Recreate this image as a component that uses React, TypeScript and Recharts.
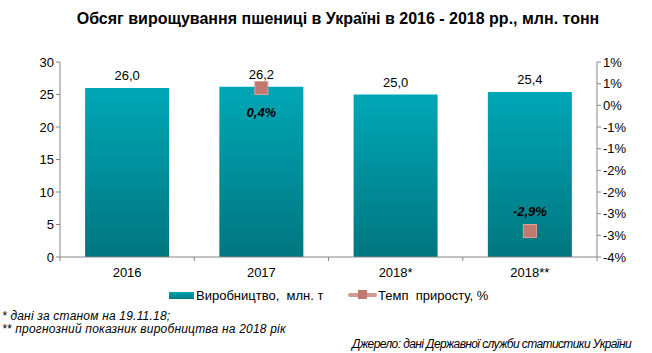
import React from "react";
import { ComposedChart, Bar, Line, XAxis, YAxis, LabelList } from "recharts";

const categories = ["2016", "2017", "2018*", "2018**"];
const production = [26.0, 26.2, 25.0, 25.4];
const growth: (number | null)[] = [null, 0.4, null, -2.9];
const leftTicks = [0, 5, 10, 15, 20, 25, 30];
const rightTicks = [1, 0.5, 0, -0.5, -1, -1.5, -2, -2.5, -3, -3.5];

const data = categories.map((c, i) => ({ name: c, prod: production[i], growth: growth[i] }));

const FONT = "'Liberation Sans', Arial, sans-serif";

const fmtPct = (v: number) => {
  const r = Math.sign(v) * Math.round(Math.abs(v));
  return `${r === 0 ? 0 : r}%`;
};

const XTick = (props: any) => {
  const { x, y, payload, index } = props;
  const off = payload.offset || 0;
  return (
    <g>
      <line x1={x - off} y1={y - 8} x2={x - off} y2={y - 4} stroke="#868686" />
      {index === categories.length - 1 && (
        <line x1={x + off} y1={y - 8} x2={x + off} y2={y - 4} stroke="#868686" />
      )}
      <text x={x} y={y + 12} textAnchor="middle" fontSize={13} fill="#000" fontFamily={FONT}>
        {payload.value}
      </text>
    </g>
  );
};

const SquareDot = (props: any) => {
  const { cx, cy, value } = props;
  if (value === null || value === undefined || cx == null || cy == null) return null;
  return (
    <rect x={cx - 6.5} y={cy - 6.5} width={13} height={13} fill="#C0786F" stroke="#D6A39B" strokeWidth={1} />
  );
};

const GrowthLabel = (props: any) => {
  const { x, y, value } = props;
  if (value === null || value === undefined) return null;
  const dy = value >= 0 ? 29 : -15;
  return (
    <text
      x={x}
      y={y + dy}
      textAnchor="middle"
      fontSize={13}
      fontWeight="bold"
      fontStyle="italic"
      fill="#000"
      fontFamily={FONT}
    >
      {`${value.toFixed(1).replace(".", ",")}%`}
    </text>
  );
};

export default function App() {
  return (
    <div style={{ position: "absolute", left: 0, top: 0, width: 652, height: 353, background: "#fff", fontFamily: FONT }}>
      <div
        style={{
          position: "absolute",
          left: 12,
          top: 10,
          width: 652,
          textAlign: "center",
          fontSize: 16,
          fontWeight: "bold",
          color: "#000",
        }}
      >
        Обсяг вирощування пшениці в Україні в 2016 - 2018 рр., млн. тонн
      </div>
      <ComposedChart
        width={652}
        height={353}
        data={data}
        margin={{ top: 62, right: 0, bottom: 0, left: 0 }}
        barCategoryGap="18.7%"
      >
        <defs>
          <linearGradient id="barGrad" x1="0" y1="0" x2="0" y2="1">
            <stop offset="0%" stopColor="#00A7B6" />
            <stop offset="100%" stopColor="#00767F" />
          </linearGradient>
        </defs>
        <XAxis
          dataKey="name"
          height={96}
          axisLine={{ stroke: "#868686" }}
          tickLine={false}
          tick={<XTick />}
          interval={0}
        />
        <YAxis
          yAxisId="left"
          width={60}
          domain={[0, 30]}
          ticks={leftTicks}
          interval={0}
          axisLine={{ stroke: "#868686" }}
          tickLine={{ stroke: "#868686" }}
          tickSize={4}
          tick={{ fontSize: 13, fill: "#000", fontFamily: FONT }}
        />
        <YAxis
          yAxisId="right"
          orientation="right"
          width={55}
          domain={[-3.5, 1]}
          ticks={rightTicks}
          interval={0}
          allowDataOverflow
          axisLine={{ stroke: "#868686" }}
          tickLine={{ stroke: "#868686" }}
          tickSize={4}
          tickFormatter={fmtPct}
          tick={{ fontSize: 13, fill: "#000", fontFamily: FONT, textAnchor: "start" }}
        />
        <Bar yAxisId="left" dataKey="prod" fill="url(#barGrad)" isAnimationActive={false}>
          <LabelList
            dataKey="prod"
            position="top"
            offset={8}
            formatter={(v: any) => Number(v).toFixed(1).replace(".", ",")}
            style={{ fontSize: 13, fill: "#000", fontFamily: FONT }}
          />
        </Bar>
        <Line
          yAxisId="right"
          dataKey="growth"
          stroke="#C0786F"
          strokeWidth={3}
          dot={<SquareDot />}
          activeDot={false}
          connectNulls={false}
          isAnimationActive={false}
        >
          <LabelList dataKey="growth" content={<GrowthLabel />} />
        </Line>
      </ComposedChart>

      {/* Legend */}
      <div style={{ position: "absolute", left: 169, top: 287, height: 16, display: "flex", alignItems: "center", fontSize: 13, color: "#000" }}>
        <div style={{ width: 25, height: 7, background: "linear-gradient(#00A7B6, #00767F)", marginRight: 2 }} />
        <span style={{ whiteSpace: "pre" }}>Виробництво,  млн. т</span>
      </div>
      <div style={{ position: "absolute", left: 348, top: 287, height: 16, display: "flex", alignItems: "center", fontSize: 13, color: "#000" }}>
        <div style={{ position: "relative", width: 29, height: 12, marginRight: 1 }}>
          <div style={{ position: "absolute", left: 0, top: 4, width: 29, height: 4, background: "#D09A93", borderRadius: 2 }} />
          <div style={{ position: "absolute", left: 10, top: 1, width: 9, height: 9, background: "#C0786F" }} />
        </div>
        <span style={{ whiteSpace: "pre" }}>Темп  приросту, %</span>
      </div>

      {/* Footnotes */}
      <div style={{ position: "absolute", left: 2, top: 309, fontSize: 12, fontStyle: "italic", color: "#000", letterSpacing: 0.2, whiteSpace: "pre" }}>
        * дані за станом на 19.11.18;
      </div>
      <div style={{ position: "absolute", left: 2, top: 322, fontSize: 12, fontStyle: "italic", color: "#000", letterSpacing: 0.2, whiteSpace: "pre" }}>
        ** прогнозний показник виробництва на 2018 рік
      </div>
      <div style={{ position: "absolute", right: 21, top: 337, fontSize: 12, fontStyle: "italic", color: "#000", letterSpacing: -0.6, whiteSpace: "pre" }}>
        Джерело: дані Державної служби статистики України
      </div>
    </div>
  );
}
